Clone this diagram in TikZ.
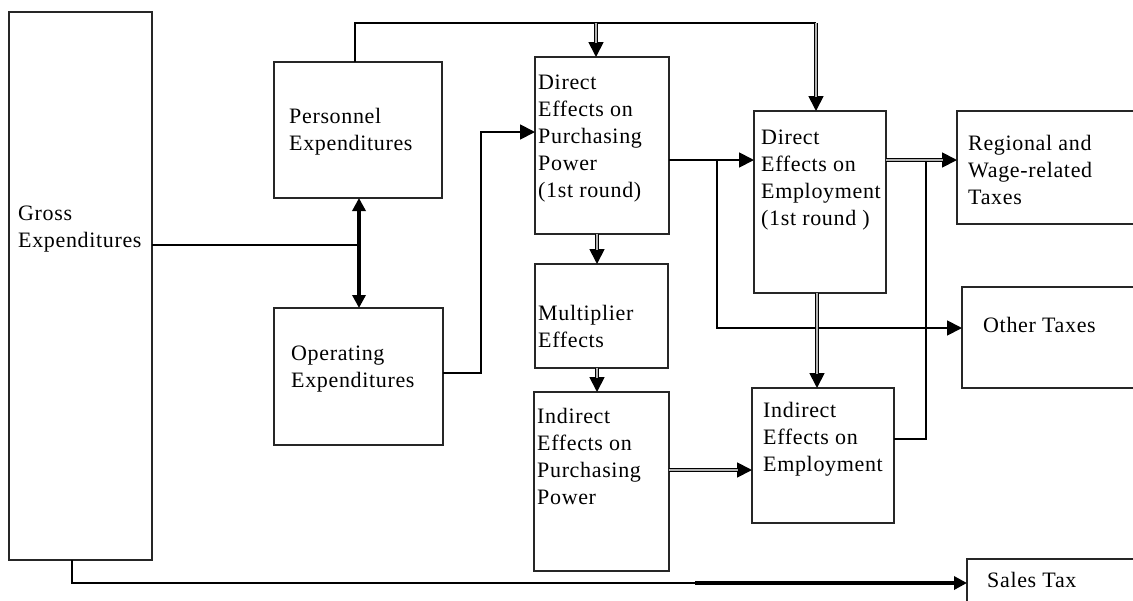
\documentclass[tikz,border=0pt]{standalone}
\usepackage{fontspec}
\setmainfont{Liberation Serif}[LetterSpace=3]
\usetikzlibrary{arrows.meta}
\newcommand\mylines[1]{\begin{tabular}[t]{@{}l@{}}#1\end{tabular}}
\newcommand\mkbox[5]{\node[box, anchor=north west, minimum width={(#4-#2)*1pt}, minimum height={(#5-#3)*1pt}] (#1) at (#2,#3) {};}
\tikzset{
  box/.style={draw=black!85, line width=2pt, rectangle, inner sep=0pt, outer sep=0pt, fill=white},
  txt/.style={anchor=base west, inner sep=0pt, font=\fontsize{22}{27}\selectfont},
  ln/.style={draw=black, line width=1.8pt},
  arr/.style={ln, -{Triangle[length=15pt,width=15pt]}},
  dblline/.style={draw=black, line width=1.4pt, double=gray!60, double distance=1.3pt, shorten >=14pt},
  thk/.style={draw=black, line width=3.4pt},
  thkarr/.style={thk, -{Triangle[length=13pt,width=13pt]}},
  thkboth/.style={thk, {Triangle[length=13pt,width=13pt]}-{Triangle[length=13pt,width=13pt]}}
}
\begin{document}
\begin{tikzpicture}[x=1pt,y=-1pt]
\useasboundingbox (0,0) rectangle (1133,600);
\clip (0,0) rectangle (1133,600);
\fill[white] (0,0) rectangle (1133,600);

% boxes
\mkbox{gross}{9}{12}{152}{560}
\mkbox{personnel}{274}{62}{442}{198}
\mkbox{operating}{274}{308}{443}{445}
\mkbox{dpp}{535}{57}{669}{234}
\mkbox{mult}{535}{264}{668}{368}
\mkbox{ipp}{534}{392}{669}{571}
\mkbox{demp}{754}{111}{886}{293}
\mkbox{iemp}{752}{388}{894}{523}
\mkbox{regional}{957}{111}{1150}{224}
\mkbox{other}{962}{287}{1150}{388}
\mkbox{sales}{967}{559}{1150}{620}

% texts
\node[txt] (tgross) at (18,220) {\mylines{Gross\\Expenditures}};
\node[txt] (tpersonnel) at (289,123) {\mylines{Personnel\\Expenditures}};
\node[txt] (toperating) at (291,360) {\mylines{Operating\\Expenditures}};
\node[txt] (tdpp) at (538,89) {\mylines{Direct\\Effects on\\Purchasing\\Power\\(1st round)}};
\node[txt] (tmult) at (538,320) {\mylines{Multiplier\\Effects}};
\node[txt] (tipp) at (537,423) {\mylines{Indirect\\Effects on\\Purchasing\\Power}};
\node[txt] (tdemp) at (761,144) {\mylines{Direct\\Effects on\\Employment\\(1st round )}};
\node[txt] (tiemp) at (763,417) {\mylines{Indirect\\Effects on\\Employment}};
\node[txt] (tregional) at (968,150) {\mylines{Regional and\\Wage-related\\Taxes}};
\node[txt] (tother) at (983,332) {Other Taxes};
\node[txt] (tsales) at (987,587) {Sales Tax};

% coordinates
\coordinate (tl) at (355,23);
\coordinate (tm) at (596,23);
\coordinate (tr) at (816,23);
\coordinate (j1) at (359,245);
\coordinate (c1) at (481,373);
\coordinate (c2) at (481,132);
\coordinate (r1) at (717,160);
\coordinate (r2) at (717,328);
\coordinate (q1) at (926,160);
\coordinate (q2) at (926,439);
\coordinate (m1) at (597,300);
\coordinate (e1) at (817,300);
\coordinate (p1) at (700,470);
\coordinate (s1) at (72,583);
\coordinate (s2) at (695,583);

% top connector
\draw[ln] (personnel.north -| tl) -- (tl) -- (tr);
\draw[arr] (tm) -- (dpp.north -| tm);
\draw[dblline] (tm) -- (dpp.north -| tm);
\draw[arr] (tr) -- (demp.north -| tr);
\draw[dblline] (tr) -- (demp.north -| tr);

% gross to personnel/operating
\draw[ln] (gross.east |- j1) -- (j1);
\draw[thkboth] (personnel.south -| j1) -- (operating.north -| j1);

% operating to direct purchasing power
\draw[arr] (operating.east |- c1) -- (c1) -- (c2) -- (dpp.west |- c2);

% direct purchasing power to direct employment and other taxes
\draw[arr] (dpp.east |- r1) -- (demp.west |- r1);
\draw[arr] (r1) -- (r2) -- (other.west |- r2);

% to regional taxes
\draw[ln] (iemp.east |- q2) -- (q2) -- (q1);
\draw[arr] (demp.east |- q1) -- (regional.west |- q1);
\draw[dblline] (demp.east |- q1) -- (regional.west |- q1);

% vertical chains
\draw[arr] (dpp.south -| m1) -- (mult.north -| m1);
\draw[dblline] (dpp.south -| m1) -- (mult.north -| m1);
\draw[arr] (mult.south -| m1) -- (ipp.north -| m1);
\draw[dblline] (mult.south -| m1) -- (ipp.north -| m1);
\draw[arr] (demp.south -| e1) -- (iemp.north -| e1);
\draw[dblline] (demp.south -| e1) -- (iemp.north -| e1);

% indirect purchasing power to indirect employment
\draw[arr] (ipp.east |- p1) -- (iemp.west |- p1);
\draw[dblline] (ipp.east |- p1) -- (iemp.west |- p1);

% sales tax
\draw[ln] (gross.south -| s1) -- (s1) -- (s2);
\draw[thkarr] (s2) -- (sales.west |- s2);
\end{tikzpicture}
\end{document}
